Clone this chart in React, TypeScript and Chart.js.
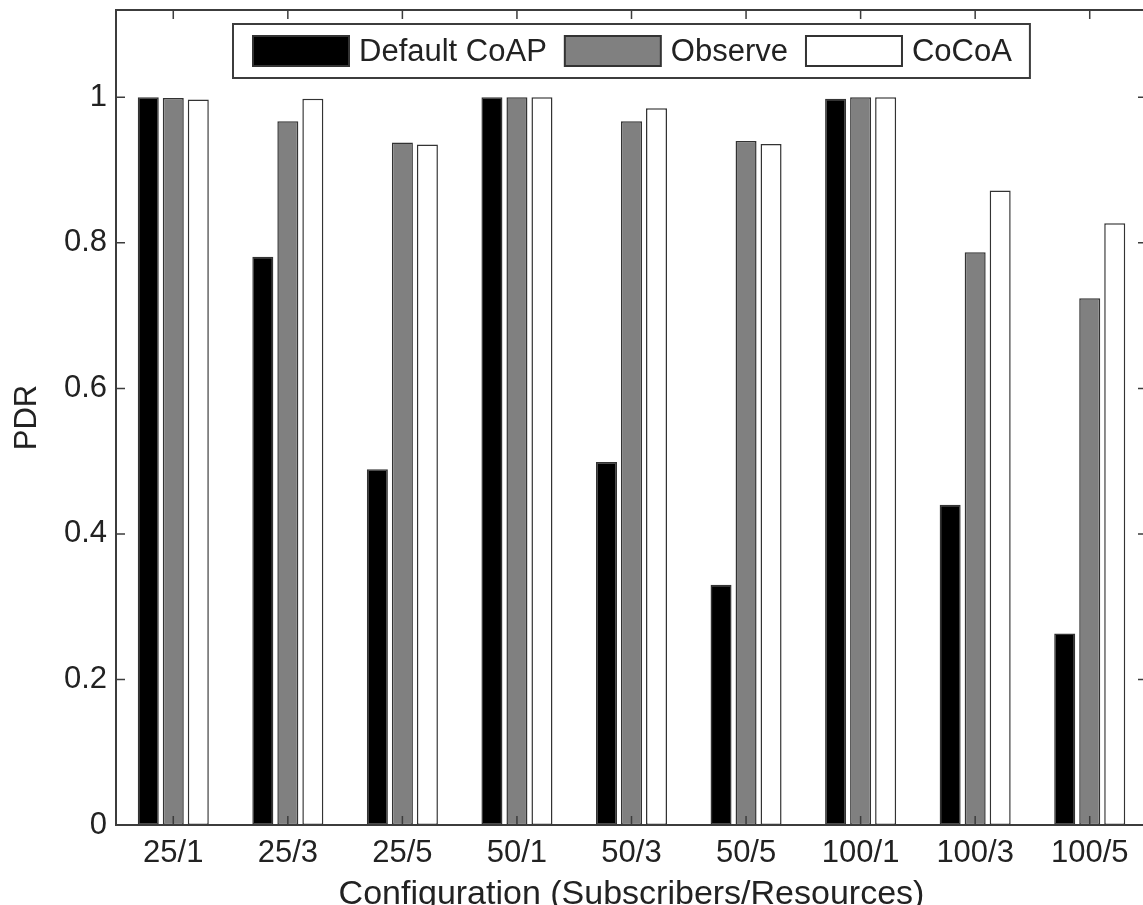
import React, { useEffect, useRef } from "react";
import { Chart, registerables } from "chart.js";

Chart.register(...registerables);

const categories = ["25/1", "25/3", "25/5", "50/1", "50/3", "50/5", "100/1", "100/3", "100/5"];
const defaultCoap = [1.0, 0.781, 0.489, 1.0, 0.499, 0.33, 0.998, 0.44, 0.263];
const observe = [0.999, 0.967, 0.938, 1.0, 0.967, 0.94, 1.0, 0.787, 0.724];
const cocoa = [0.997, 0.998, 0.935, 1.0, 0.985, 0.936, 1.0, 0.872, 0.827];
const seriesNames = ["Default CoAP", "Observe", "CoCoA"];
const yTicks = [0, 0.2, 0.4, 0.6, 0.8, 1];

const FONT = "'Liberation Sans', Arial, Helvetica, sans-serif";
const AXIS = "#3c3c3c";
const TEXT = "#222222";

const framePlugin = {
  id: "frame",
  afterDraw(chart: any) {
    const { ctx, chartArea } = chart;
    const { left, right, top, bottom } = chartArea;
    const xs = chart.scales.x;
    const ys = chart.scales.y;
    ctx.save();
    ctx.strokeStyle = AXIS;
    ctx.lineWidth = 2;
    ctx.strokeRect(left, top, right - left, bottom - top);
    ctx.lineWidth = 1.5;
    const tl = 9;
    ctx.beginPath();
    for (let i = 0; i < categories.length; i++) {
      const x = xs.getPixelForValue(i);
      ctx.moveTo(x, top);
      ctx.lineTo(x, top + tl);
      ctx.moveTo(x, bottom);
      ctx.lineTo(x, bottom - tl);
    }
    for (const v of yTicks) {
      const y = ys.getPixelForValue(v);
      ctx.moveTo(left, y);
      ctx.lineTo(left + tl, y);
      ctx.moveTo(right, y);
      ctx.lineTo(right - tl, y);
    }
    ctx.stroke();

    // legend inside the plot
    const boxLeft = 233;
    const boxTop = 24;
    const boxH = 54;
    const swW = 96;
    const swH = 30;
    ctx.font = `31px ${FONT}`;
    const fills = chart.data.datasets.map((d: any) => d.backgroundColor);
    let x = boxLeft + 20;
    const items: any[] = [];
    chart.data.datasets.forEach((d: any, i: number) => {
      const w = ctx.measureText(d.label).width;
      items.push({ x, label: d.label, fill: fills[i], w });
      x += swW + 10 + w + 18;
    });
    const boxRight = x;
    ctx.fillStyle = "#ffffff";
    ctx.fillRect(boxLeft, boxTop, boxRight - boxLeft, boxH);
    ctx.lineWidth = 2;
    ctx.strokeStyle = AXIS;
    ctx.strokeRect(boxLeft, boxTop, boxRight - boxLeft, boxH);
    const cy = boxTop + boxH / 2;
    for (const it of items) {
      ctx.fillStyle = it.fill;
      ctx.fillRect(it.x, cy - swH / 2, swW, swH);
      ctx.lineWidth = 2;
      ctx.strokeStyle = "#333333";
      ctx.strokeRect(it.x, cy - swH / 2, swW, swH);
      ctx.fillStyle = TEXT;
      ctx.textBaseline = "middle";
      ctx.textAlign = "left";
      ctx.fillText(it.label, it.x + swW + 10, cy + 1);
    }
    ctx.restore();
  },
};

export default function App() {
  const ref = useRef<HTMLCanvasElement>(null);
  useEffect(() => {
    const canvas = ref.current!;
    const mk = (label: string, data: number[], color: string) => ({
      label,
      data,
      backgroundColor: color,
      borderColor: "#333333",
      borderWidth: 1.5,
      borderSkipped: false,
      categoryPercentage: 0.655,
      barPercentage: 0.84,
    });
    const chart = new Chart(canvas, {
      type: "bar",
      data: {
        labels: categories,
        datasets: [
          mk(seriesNames[0], defaultCoap, "#000000"),
          mk(seriesNames[1], observe, "#808080"),
          mk(seriesNames[2], cocoa, "#ffffff"),
        ],
      },
      options: {
        responsive: false,
        animation: false,
        devicePixelRatio: 1,
        layout: { padding: { left: 0, right: 13, top: 10, bottom: 0 } },
        plugins: {
          legend: { display: false },
          tooltip: { enabled: false },
        },
        scales: {
          x: {
            grid: { display: false, drawTicks: false },
            border: { display: false },
            ticks: {
              color: TEXT,
              font: { family: FONT, size: 31 },
              padding: 10,
              maxRotation: 0,
              autoSkip: false,
            },
            title: {
              display: true,
              text: "Configuration (Subscribers/Resources)",
              color: TEXT,
              font: { family: FONT, size: 34, lineHeight: 1 },
              padding: { top: 0, bottom: 18 },
            },
            afterFit: (s: any) => {
              s.height = 105;
              s.paddingLeft = 0;
              s.paddingRight = 0;
            },
          },
          y: {
            min: 0,
            max: 1.12,
            grid: { display: false, drawTicks: false },
            border: { display: false },
            afterBuildTicks: (s: any) => {
              s.ticks = yTicks.map((v) => ({ value: v }));
            },
            ticks: {
              color: TEXT,
              font: { family: FONT, size: 31 },
              padding: 9,
              callback: (v: any) => String(Number(v)),
            },
            title: {
              display: true,
              text: "PDR",
              color: TEXT,
              font: { family: FONT, size: 31, lineHeight: 1 },
              padding: { top: 12, bottom: 0 },
            },
            afterFit: (s: any) => {
              s.width = 116;
              s.paddingTop = 0;
              s.paddingBottom = 0;
            },
          },
        },
      },
      plugins: [framePlugin],
    });
    return () => chart.destroy();
  }, []);
  return (
    <div style={{ position: "fixed", left: 0, top: 0, width: 1160, height: 930, background: "#fff" }}>
      <canvas ref={ref} width={1160} height={930} style={{ display: "block" }} />
    </div>
  );
}
